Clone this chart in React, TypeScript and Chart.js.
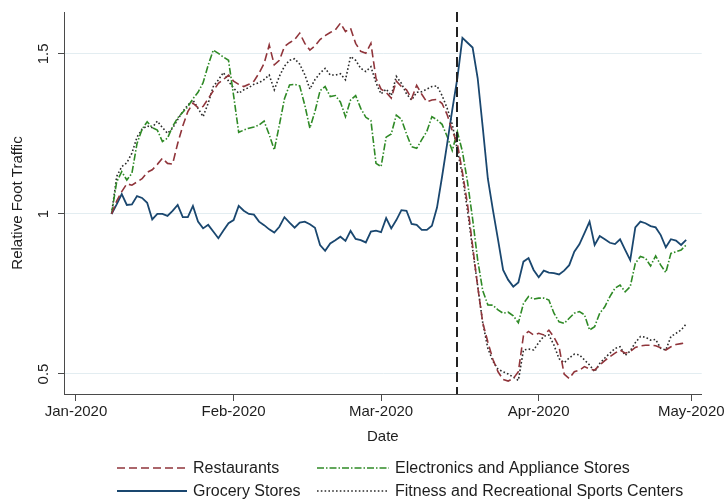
import React, { useEffect, useRef } from "react";
import { Chart, registerables } from "chart.js";

Chart.register(...registerables);

// Day index = days since 1 Jan 2020; the series start on 8 Jan 2020 (day 7) and end 30 Apr 2020 (day 120)
const FIRST_DAY = 7;

const restaurants = [
  1.0, 1.04, 1.07, 1.094, 1.09, 1.1, 1.11, 1.13, 1.138, 1.155,
  1.174, 1.158, 1.156, 1.22, 1.275, 1.32, 1.346, 1.332, 1.336, 1.36,
  1.385, 1.408, 1.42, 1.434, 1.415, 1.405, 1.398, 1.405, 1.415, 1.44,
  1.47, 1.528, 1.466, 1.48, 1.523, 1.535, 1.545, 1.565, 1.533, 1.512,
  1.525, 1.545, 1.557, 1.567, 1.575, 1.596, 1.57, 1.58, 1.533, 1.508,
  1.502, 1.533, 1.424, 1.39, 1.38, 1.362, 1.415, 1.398, 1.388, 1.36,
  1.402, 1.374, 1.35, 1.356, 1.358, 1.345, 1.31, 1.26, 1.22, 1.13,
  1.03, 0.9, 0.773, 0.66, 0.6, 0.545, 0.507, 0.483, 0.478, 0.486,
  0.507, 0.62, 0.633, 0.622, 0.627, 0.622, 0.637, 0.615, 0.585, 0.5,
  0.486, 0.507, 0.512, 0.523, 0.516, 0.512, 0.528, 0.542, 0.554, 0.565,
  0.575, 0.565, 0.57, 0.583, 0.588, 0.59, 0.59, 0.588, 0.582, 0.575,
  0.585, 0.592, 0.595, 0.598,
];

const grocery = [
  1.0, 1.03, 1.062, 1.028, 1.03, 1.056, 1.05, 1.035, 0.983, 1.0,
  1.0, 0.994, 1.01, 1.028, 0.99, 0.99, 1.025, 0.976, 0.955, 0.966,
  0.945, 0.924, 0.948, 0.971, 0.981, 1.025, 1.01, 1.0, 0.998, 0.976,
  0.965, 0.952, 0.942, 0.96, 0.99, 0.973, 0.957, 0.973, 0.976, 0.968,
  0.957, 0.903, 0.885, 0.908, 0.918, 0.929, 0.916, 0.947, 0.922, 0.918,
  0.911, 0.945, 0.948, 0.943, 0.987, 0.955, 0.981, 1.012, 1.01, 0.969,
  0.966, 0.95, 0.95, 0.963, 1.02, 1.117, 1.22, 1.325, 1.424, 1.55,
  1.535, 1.52, 1.424, 1.27, 1.11, 1.012, 0.92, 0.825, 0.794, 0.773,
  0.786, 0.851, 0.862, 0.825, 0.802, 0.823, 0.817, 0.815, 0.811, 0.823,
  0.84, 0.882, 0.905, 0.94, 0.976, 0.903, 0.931, 0.921, 0.91, 0.906,
  0.921, 0.888, 0.856, 0.958, 0.976, 0.971, 0.962, 0.958, 0.934, 0.896,
  0.921, 0.917, 0.903, 0.919,
];

const electronics = [
  1.0, 1.1, 1.132, 1.106, 1.127, 1.22, 1.265, 1.288, 1.27, 1.262,
  1.226, 1.237, 1.273, 1.3, 1.318, 1.335, 1.36, 1.38, 1.41, 1.465,
  1.512, 1.502, 1.49, 1.48, 1.37, 1.255, 1.262, 1.268, 1.272, 1.278,
  1.29, 1.248, 1.2, 1.278, 1.36, 1.403, 1.405, 1.4, 1.34, 1.268,
  1.32, 1.385, 1.398, 1.367, 1.37, 1.35, 1.304, 1.356, 1.37, 1.33,
  1.302, 1.292, 1.158, 1.148, 1.24, 1.25, 1.309, 1.296, 1.25, 1.21,
  1.205, 1.232, 1.258, 1.304, 1.294, 1.28, 1.242, 1.198, 1.257, 1.195,
  1.1, 0.985, 0.856, 0.76, 0.716, 0.715, 0.7, 0.69, 0.693, 0.682,
  0.66, 0.72, 0.742, 0.734, 0.737, 0.737, 0.731, 0.69, 0.663, 0.658,
  0.674, 0.69, 0.695, 0.685, 0.6375, 0.648, 0.69, 0.71, 0.742, 0.768,
  0.778, 0.757, 0.773, 0.846, 0.867, 0.862, 0.8375, 0.869, 0.84, 0.817,
  0.877, 0.882, 0.8875, 0.903,
];

const fitness = [
  1.0, 1.117, 1.148, 1.16, 1.19, 1.24, 1.265, 1.275, 1.27, 1.29,
  1.27, 1.252, 1.268, 1.295, 1.32, 1.34, 1.356, 1.33, 1.304, 1.346,
  1.398, 1.419, 1.442, 1.415, 1.393, 1.377, 1.388, 1.395, 1.405, 1.41,
  1.42, 1.434, 1.388, 1.43, 1.462, 1.48, 1.485, 1.468, 1.435, 1.39,
  1.42, 1.44, 1.455, 1.434, 1.434, 1.438, 1.419, 1.492, 1.48, 1.455,
  1.445, 1.46, 1.41, 1.375, 1.39, 1.37, 1.43, 1.408, 1.375, 1.356,
  1.38, 1.382, 1.39, 1.398, 1.4, 1.37, 1.33, 1.28, 1.2, 1.12,
  1.01, 0.89, 0.775, 0.66, 0.58, 0.54, 0.515, 0.507, 0.5, 0.49,
  0.48, 0.575, 0.578, 0.575, 0.598, 0.618, 0.622, 0.59, 0.548, 0.535,
  0.55, 0.562, 0.56, 0.544, 0.528, 0.507, 0.533, 0.55, 0.565, 0.58,
  0.585, 0.558, 0.572, 0.598, 0.617, 0.615, 0.606, 0.608, 0.58, 0.575,
  0.617, 0.627, 0.6375, 0.656,
];

const seriesNames = [
  "Restaurants",
  "Grocery Stores",
  "Electronics and Appliance Stores",
  "Fitness and Recreational Sports Centers",
];

const xTickDays = [0, 31, 60, 91, 121];
const xTickLabels = ["Jan-2020", "Feb-2020", "Mar-2020", "Apr-2020", "May-2020"];
const yTickValues = [0.5, 1, 1.5];
const yTickLabels = ["0.5", "1", "1.5"];
const policyDay = 75; // 16 Mar 2020

const FONT = "'Liberation Sans', Arial, Helvetica, sans-serif";
const TEXT = "#1e1e1e";
const AXIS = "#4a4a4a";

const toPoints = (vals: number[]) => vals.map((v, i) => ({ x: FIRST_DAY + i, y: v }));

const yLabelPlugin = {
  id: "yRotLabels",
  afterDraw(chart: any) {
    const { ctx, chartArea, scales } = chart;
    const ys = scales.y;
    ctx.save();
    ctx.fillStyle = TEXT;
    ctx.font = `15px ${FONT}`;
    ctx.textAlign = "center";
    ctx.textBaseline = "alphabetic";
    yTickValues.forEach((v, i) => {
      const py = ys.getPixelForValue(v);
      ctx.save();
      ctx.translate(chartArea.left - 16, py);
      ctx.rotate(-Math.PI / 2);
      ctx.fillText(yTickLabels[i], 0, 0);
      ctx.restore();
    });
    ctx.restore();
  },
};

const policyLinePlugin = {
  id: "policyLine",
  afterDatasetsDraw(chart: any) {
    const { ctx, chartArea, scales } = chart;
    const px = Math.round(scales.x.getPixelForValue(policyDay));
    ctx.save();
    ctx.strokeStyle = "#222";
    ctx.lineWidth = 2;
    ctx.setLineDash([10, 5]);
    ctx.beginPath();
    ctx.moveTo(px, chartArea.top);
    ctx.lineTo(px, chartArea.bottom);
    ctx.stroke();
    ctx.restore();
  },
};

const legendPlugin = {
  id: "stataLegend",
  afterDraw(chart: any) {
    const { ctx } = chart;
    const ds = chart.data.datasets;
    // order: row1 -> Restaurants, Electronics ; row2 -> Grocery, Fitness
    const layout = [
      { idx: 0, col: 0, row: 0 },
      { idx: 2, col: 1, row: 0 },
      { idx: 1, col: 0, row: 1 },
      { idx: 3, col: 1, row: 1 },
    ];
    const cols = [{ x1: 117, x2: 187, tx: 193 }, { x1: 317, x2: 389, tx: 395 }];
    const rows = [468, 491];
    ctx.save();
    ctx.font = `16px ${FONT}`;
    ctx.textBaseline = "middle";
    ctx.textAlign = "left";
    layout.forEach(({ idx, col, row }) => {
      const d = ds[idx];
      const c = cols[col];
      const y = rows[row];
      ctx.save();
      ctx.strokeStyle = d.borderColor;
      ctx.lineWidth = d.borderWidth;
      ctx.setLineDash(d.borderDash || []);
      ctx.beginPath();
      ctx.moveTo(c.x1, y);
      ctx.lineTo(c.x2, y);
      ctx.stroke();
      ctx.restore();
      ctx.fillStyle = TEXT;
      ctx.fillText(d.label, c.tx, y + 1);
    });
    ctx.restore();
  },
};

export default function App() {
  const ref = useRef<HTMLCanvasElement | null>(null);

  useEffect(() => {
    if (!ref.current) return;
    const chart = new Chart(ref.current, {
      type: "line",
      data: {
        datasets: [
          {
            label: seriesNames[0],
            data: toPoints(restaurants),
            borderColor: "#90353b",
            borderWidth: 1.6,
            borderDash: [8, 4],
            pointRadius: 0,
            tension: 0,
          },
          {
            label: seriesNames[1],
            data: toPoints(grocery),
            borderColor: "#1a476f",
            borderWidth: 1.8,
            pointRadius: 0,
            tension: 0,
          },
          {
            label: seriesNames[2],
            data: toPoints(electronics),
            borderColor: "#2f8a26",
            borderWidth: 1.6,
            borderDash: [7, 2, 1.5, 2],
            pointRadius: 0,
            tension: 0,
          },
          {
            label: seriesNames[3],
            data: toPoints(fitness),
            borderColor: "#2b2b2b",
            borderWidth: 1.6,
            borderDash: [1.6, 2.2],
            pointRadius: 0,
            tension: 0,
          },
        ],
      },
      options: {
        animation: false,
        responsive: false,
        devicePixelRatio: 1,
        layout: { padding: { top: 12, right: 24, left: 0, bottom: 0 } },
        plugins: { legend: { display: false }, tooltip: { enabled: false } },
        scales: {
          x: {
            type: "linear",
            min: -2.355,
            max: 123.06,
            afterBuildTicks: (s: any) => {
              s.ticks = xTickDays.map((v) => ({ value: v }));
            },
            afterFit: (s: any) => {
              s.height = 106;
            },
            ticks: {
              autoSkip: false,
              maxRotation: 0,
              padding: 2,
              color: TEXT,
              font: { family: FONT, size: 15 },
              callback: (v: any) => {
                const i = xTickDays.indexOf(Number(v));
                return i >= 0 ? xTickLabels[i] : "";
              },
            },
            grid: { drawOnChartArea: false, drawTicks: true, tickLength: 7, tickColor: AXIS, tickWidth: 1 },
            border: { display: true, color: AXIS, width: 1 },
            title: {
              display: true,
              text: "Date",
              color: TEXT,
              font: { family: FONT, size: 15 },
              padding: { top: 0, bottom: 54 },
            },
          },
          y: {
            type: "linear",
            min: 0.4375,
            max: 1.631,
            afterBuildTicks: (s: any) => {
              s.ticks = yTickValues.map((v) => ({ value: v }));
            },
            afterFit: (s: any) => {
              s.width = 64;
            },
            ticks: { display: false },
            grid: { color: "#e3edf1", lineWidth: 1, drawTicks: true, tickLength: 6, tickColor: AXIS, tickWidth: 1 },
            border: { display: true, color: AXIS, width: 1 },
            title: {
              display: true,
              text: "Relative Foot Traffic",
              color: TEXT,
              font: { family: FONT, size: 15 },
              padding: { top: 9, bottom: 0 },
            },
          },
        },
      },
      plugins: [policyLinePlugin, yLabelPlugin, legendPlugin],
    });
    return () => chart.destroy();
  }, []);

  return (
    <div style={{ position: "absolute", left: 0, top: 0, width: 727, height: 500, background: "#fff" }}>
      <canvas ref={ref} width={727} height={500} />
    </div>
  );
}
